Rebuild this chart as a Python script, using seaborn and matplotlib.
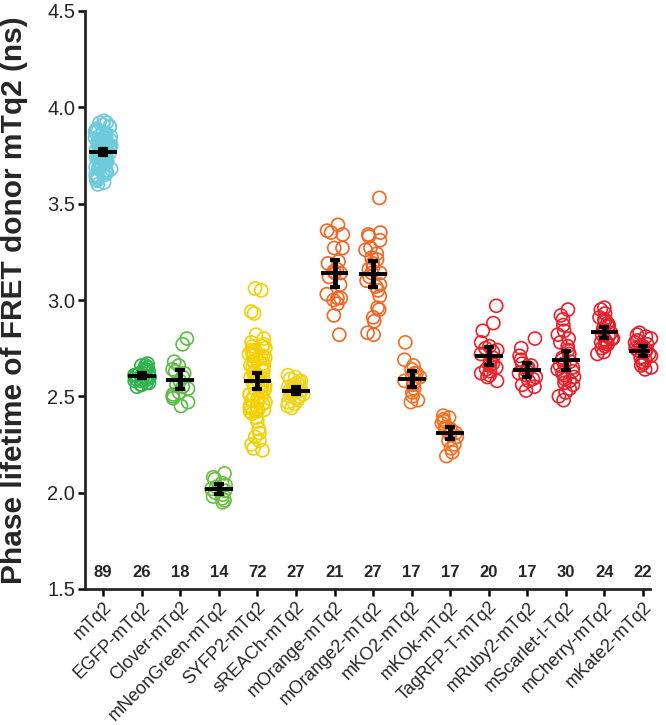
import numpy as np
import pandas as pd
import matplotlib
matplotlib.use("Agg")
import matplotlib.pyplot as plt
import seaborn as sns

# constructs on the x axis and the colour used for each
constructs = ['mTq2', 'EGFP-mTq2', 'Clover-mTq2', 'mNeonGreen-mTq2', 'SYFP2-mTq2',
              'sREACh-mTq2', 'mOrange-mTq2', 'mOrange2-mTq2', 'mKO2-mTq2', 'mKOk-mTq2',
              'TagRFP-T-mTq2', 'mRuby2-mTq2', 'mScarlet-I-Tq2', 'mCherry-mTq2', 'mKate2-mTq2']
colors = ['#6ccadb', '#2db34a', '#5cbb47', '#6dbe45', '#f4d000', '#f0d41c', '#f26522',
          '#f26522', '#f47021', '#f47021', '#ec2227', '#e8202a', '#e8202a', '#e71f2a', '#e41e2b']

# phase lifetimes (ns)
mtq2 = [3.93, 3.92, 3.92, 3.91, 3.90, 3.90, 3.89, 3.88, 3.88, 3.87,
        3.87, 3.86, 3.86, 3.85, 3.85, 3.85, 3.84, 3.84, 3.83, 3.83,
        3.83, 3.82, 3.82, 3.82, 3.81, 3.81, 3.81, 3.80, 3.80, 3.80,
        3.80, 3.79, 3.79, 3.79, 3.78, 3.78, 3.78, 3.78, 3.77, 3.77,
        3.77, 3.77, 3.76, 3.76, 3.76, 3.76, 3.75, 3.75, 3.75, 3.75,
        3.74, 3.74, 3.74, 3.74, 3.73, 3.73, 3.73, 3.72, 3.72, 3.72,
        3.71, 3.71, 3.71, 3.70, 3.70, 3.70, 3.69, 3.69, 3.68, 3.68,
        3.67, 3.67, 3.66, 3.66, 3.65, 3.65, 3.64, 3.64, 3.63, 3.62,
        3.62, 3.61, 3.60, 3.85, 3.79, 3.76, 3.74, 3.80, 3.83]
egfp = [2.67, 2.66, 2.66, 2.65, 2.64, 2.64, 2.63, 2.63, 2.62, 2.62, 2.61, 2.61, 2.60,
        2.60, 2.60, 2.59, 2.59, 2.58, 2.58, 2.57, 2.57, 2.56, 2.56, 2.55, 2.59, 2.61]
clover = [2.80, 2.77, 2.68, 2.66, 2.64, 2.63, 2.62, 2.60, 2.58, 2.56, 2.55, 2.54,
          2.52, 2.51, 2.50, 2.49, 2.47, 2.45]
mneongreen = [2.10, 2.08, 2.07, 2.05, 2.04, 2.03, 2.02, 2.01, 2.00, 1.99, 1.98, 1.97, 1.96, 1.95]
syfp2 = [3.06, 3.05, 2.94, 2.93, 2.82, 2.80, 2.78, 2.77, 2.76, 2.75,
         2.74, 2.73, 2.72, 2.71, 2.70, 2.70, 2.69, 2.68, 2.67, 2.66,
         2.66, 2.65, 2.64, 2.63, 2.63, 2.62, 2.61, 2.60, 2.60, 2.59,
         2.58, 2.57, 2.57, 2.56, 2.55, 2.54, 2.54, 2.53, 2.52, 2.51,
         2.51, 2.50, 2.50, 2.49, 2.48, 2.47, 2.47, 2.46, 2.45, 2.44,
         2.44, 2.43, 2.42, 2.45, 2.44, 2.43, 2.42, 2.41, 2.39, 2.37,
         2.33, 2.31, 2.29, 2.27, 2.25, 2.23, 2.22, 2.74, 2.76, 2.71,
         2.69, 2.72]
sreach = [2.61, 2.60, 2.59, 2.58, 2.58, 2.57, 2.56, 2.56, 2.55, 2.55, 2.54, 2.54, 2.53, 2.53,
          2.53, 2.52, 2.52, 2.51, 2.51, 2.50, 2.50, 2.49, 2.48, 2.47, 2.46, 2.45, 2.44]
morange = [3.39, 3.36, 3.35, 3.34, 3.27, 3.27, 3.20, 3.16, 3.15, 3.14, 3.12,
           3.08, 3.03, 3.01, 3.01, 3.00, 2.98, 2.92, 2.82, 3.19, 3.14]
morange2 = [3.53, 3.35, 3.34, 3.33, 3.31, 3.27, 3.26, 3.24, 3.22, 3.21, 3.19, 3.17, 3.14, 3.12,
            3.08, 3.07, 3.05, 3.02, 3.16, 3.14, 2.95, 2.91, 2.89, 3.10, 2.96, 2.83, 2.82]
mko2 = [2.78, 2.69, 2.66, 2.64, 2.62, 2.62, 2.60, 2.58, 2.57, 2.56, 2.54, 2.52,
        2.50, 2.48, 2.47, 2.61, 2.59]
mkok = [2.40, 2.39, 2.38, 2.37, 2.36, 2.34, 2.33, 2.33, 2.32, 2.31, 2.30, 2.29,
        2.27, 2.25, 2.23, 2.21, 2.19]
tagrfp = [2.97, 2.88, 2.84, 2.76, 2.74, 2.78, 2.75, 2.73, 2.72, 2.70,
          2.68, 2.67, 2.66, 2.65, 2.64, 2.63, 2.62, 2.61, 2.60, 2.58]
mruby2 = [2.80, 2.75, 2.71, 2.69, 2.67, 2.66, 2.65, 2.64, 2.63, 2.62, 2.61, 2.60,
          2.59, 2.58, 2.56, 2.55, 2.53]
mscarlet = [2.95, 2.92, 2.90, 2.87, 2.84, 2.82, 2.80, 2.78, 2.76, 2.74,
            2.72, 2.70, 2.69, 2.68, 2.67, 2.66, 2.65, 2.64, 2.63, 2.62,
            2.61, 2.60, 2.59, 2.58, 2.57, 2.56, 2.54, 2.52, 2.50, 2.48]
mcherry = [2.96, 2.95, 2.93, 2.91, 2.90, 2.89, 2.88, 2.87, 2.86, 2.85, 2.84, 2.83,
           2.82, 2.81, 2.80, 2.80, 2.79, 2.78, 2.78, 2.77, 2.76, 2.75, 2.73, 2.72]
mkate2 = [2.83, 2.82, 2.81, 2.80, 2.79, 2.78, 2.77, 2.76, 2.76, 2.75, 2.74,
          2.74, 2.73, 2.72, 2.71, 2.70, 2.69, 2.68, 2.67, 2.66, 2.65, 2.64]

groups = [mtq2, egfp, clover, mneongreen, syfp2, sreach, morange, morange2,
          mko2, mkok, tagrfp, mruby2, mscarlet, mcherry, mkate2]

rows = []
for name, vals in zip(constructs, groups):
    for v in vals:
        rows.append((name, v))
df = pd.DataFrame(rows, columns=['construct', 'lifetime'])

sns.set_style('ticks')
plt.rcParams['font.family'] = ['Liberation Sans', 'DejaVu Sans']

fig = plt.figure(figsize=(6.66, 7.25), dpi=100)
ax = fig.add_axes([85/666, 1 - 589/725, (650 - 85)/666, (589 - 11)/725])

# horizontal spread of the dots only (fixed seed so the layout is repeatable)
np.random.seed(3)
sns.stripplot(data=df, x='construct', y='lifetime', hue='construct', order=constructs,
              hue_order=constructs, palette=colors, jitter=0.22, size=9.4,
              legend=False, ax=ax)
for coll in ax.collections:
    fc = coll.get_facecolors()
    coll.set_edgecolors(fc)
    coll.set_facecolors('none')
    coll.set_linewidth(1.2)
    coll.set_clip_on(False)

ax.set_xlim(-0.47, 14.18)
ax.set_ylim(1.5, 4.5)

# mean with 95% CI
pos = np.arange(len(constructs))
ns = np.array([len(g) for g in groups])
means = np.array([np.mean(g) for g in groups])
sds = np.array([np.std(g, ddof=1) for g in groups])
tcrit = 1.96 + 2.5 / (ns - 1)
ci = tcrit * sds / np.sqrt(ns)
ax.errorbar(pos, means, yerr=ci, fmt='none', ecolor='black', elinewidth=3.5,
            capsize=3.5, capthick=3, zorder=5)
ax.hlines(means, pos - 0.36, pos + 0.36, color='black', lw=2.8, zorder=5)

# number of cells
for i, n in enumerate(ns):
    ax.text(i, 1.585, str(n), ha='center', va='center', fontsize=12, fontweight='bold')

ax.set_yticks([1.5, 2.0, 2.5, 3.0, 3.5, 4.0, 4.5])
ax.set_yticklabels(['1.5', '2.0', '2.5', '3.0', '3.5', '4.0', '4.5'], fontsize=14.5)
ax.set_xticks(pos)
ax.set_xticklabels(constructs, fontsize=13, rotation=45, ha='right', va='top',
                   rotation_mode='anchor')
ax.set_xlabel('')
ax.set_ylabel('Phase lifetime of FRET donor mTq2 (ns)', fontsize=21.5, fontweight='bold')
ax.yaxis.set_label_coords(-0.101, 0.5)
sns.despine(ax=ax)
for s in ['left', 'bottom']:
    ax.spines[s].set_linewidth(2)
ax.tick_params(axis='both', length=5, width=1.8, color='black', pad=2)

fig.savefig('out.png', dpi=100)
